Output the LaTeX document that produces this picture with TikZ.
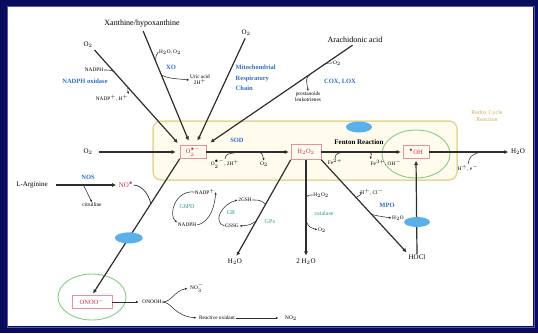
\documentclass[tikz,border=0pt]{standalone}
\usepackage{fontspec}
\setmainfont{Liberation Serif}
\usetikzlibrary{arrows.meta,shapes.geometric,calc}
\definecolor{navy}{HTML}{0B0B5C}
\definecolor{framelight}{HTML}{4B5CC0}
\definecolor{enzblue}{HTML}{2E6FC0}
\definecolor{enzteal}{HTML}{2A9C8C}
\definecolor{rosred}{HTML}{C83246}
\definecolor{rosbox}{HTML}{E890A0}
\definecolor{ringgreen}{HTML}{86CC86}
\definecolor{blobblue}{HTML}{5AB0E8}
\definecolor{redoxedge}{HTML}{E4D69C}
\definecolor{redoxfill}{HTML}{FFFCEE}
\definecolor{redoxtext}{HTML}{D0AE60}
\definecolor{arrowgray}{HTML}{2E2E2E}
\begin{document}
\begin{tikzpicture}[x=1pt,y=-1pt,
  lbl/.style={font=\fontsize{7}{8}\selectfont, inner sep=0.5pt},
  sm/.style={font=\fontsize{5.3}{6.3}\selectfont, inner sep=0.5pt},
  big/.style={font=\fontsize{8}{9}\selectfont, inner sep=0.5pt},
  enz/.style={font=\bfseries\fontsize{6.5}{7.5}\selectfont, inner sep=0.5pt, text=enzblue},
  tl/.style={font=\fontsize{6}{7}\selectfont, inner sep=0.5pt, text=enzteal},
  ros/.style={draw=rosbox, line width=0.6pt, text=rosred, font=\fontsize{6.5}{7.5}\selectfont, inner sep=1pt},
  mainarrow/.style={draw=arrowgray, line width=1.2pt, -{Latex[length=4pt,width=4pt]}},
  sidearrow/.style={draw=arrowgray, line width=0.55pt, -{Latex[length=2.5pt,width=2.2pt]}},
  link/.style={draw=arrowgray, line width=0.55pt},
  ring/.style={draw=ringgreen, line width=0.9pt, ellipse},
  blob/.style={fill=blobblue, ellipse, inner sep=0pt},
]
\useasboundingbox (0,0) rectangle (538,333);

% frame
\fill[navy] (0,0) rectangle (538,333);
\fill[white] (8,7) rectangle (533,326);
\draw[framelight, line width=0.7pt] (7,6) rectangle (534,327);

% redox cycle region
\draw[redoxedge, fill=redoxfill, line width=1.5pt, rounded corners=8pt] (153,121) rectangle (457,180);
\node[font=\fontsize{6}{7.5}\selectfont, text=redoxtext, align=center] (redox) at (487,116) {Redox Cycle\\Reaction};

% reactive species
\node[ros, minimum width=26pt, minimum height=13pt] (sup) at (193,152) {O$_2^{\bullet-}$};
\node[ros, minimum width=30pt, minimum height=15pt] (hp) at (306,152) {H$_2$O$_2$};
\node[ros, minimum width=26pt, minimum height=13pt] (oh) at (416,152) {$^{\bullet}$OH};
\node[ros, minimum width=40pt, minimum height=13pt] (onoo) at (92,302) {ONOO$^-$};
\node[ring, minimum width=68pt, minimum height=48pt] (ohring) at (416,154) {};
\node[ring, minimum width=68pt, minimum height=46pt] (onooring) at (92,297) {};

% sources and products
\node[lbl] (o2a) at (88,45) {O$_2$};
\node[big] (xan) at (142,24) {Xanthine/hypoxanthine};
\node[lbl] (o2m) at (246,33) {O$_2$};
\node[big] (ara) at (355,40) {Arachidonic acid};
\node[lbl] (o2l) at (88,152) {O$_2$};
\node[lbl] (larg) at (32,185) {L-Arginine};
\node[lbl, text=rosred] (no) at (126,185) {NO$^{\bullet}$};
\node[lbl] (h2oa) at (518,152) {H$_2$O};
\node[lbl] (hocl) at (417,257) {HOCl};
\node[lbl] (h2ob) at (306,262) {2 H$_2$O};
\node[lbl] (h2oc) at (235,262) {H$_2$O};
\node[sm] (onooh) at (152,302) {ONOOH};
\node[sm] (no3) at (197,288) {NO$_3^-$};
\node[sm] (reox) at (217,318) {Reactive oxidant};
\node[sm] (no2) at (291,318) {NO$_2$};

% enzymes
\node[enz] (nox) at (85,81) {NADPH oxidase};
\node[enz] (xo) at (171,67) {XO};
\node[enz, font=\bfseries\fontsize{6.5}{10.5}\selectfont, align=left, anchor=west] (mrc) at (235,78) {Mitochondrial\\Respiratory\\Chain};
\node[enz] (coxlox) at (340,82) {COX, LOX};
\node[enz] (sod) at (237,140) {SOD};
\node[font=\bfseries\fontsize{7}{8}\selectfont, inner sep=0.5pt] (fenton) at (359,142) {Fenton Reaction};
\node[enz] (nos) at (88,177) {NOS};
\node[enz] (mpo) at (387,205) {MPO};
\node[tl] (gpx) at (270,222) {GPx};
\node[tl] (cat) at (324,213) {catalase};
\node[tl] (g6pd) at (187,207) {G6PD};
\node[tl] (gr) at (231,213) {GR};

% co-substrates and by-products
\node[sm] (nadph1) at (94,70) {NADPH};
\node[sm] (nadp1) at (112,98) {NADP$^+$, H$^+$};
\node[sm] (xin) at (170,52) {H$_2$O, O$_2$};
\node[sm, align=center] (uric) at (200,80) {Uric acid\\2H$^+$};
\node[sm] (o2ara) at (337,63) {O$_2$};
\node[sm, align=center] (prost) at (308,97) {prostanoids\\leukotrienes};
\node[sm] (sodin) at (225,164) {O$_2^{\bullet-}$, 2H$^+$};
\node[sm] (sodout) at (264,164) {O$_2$};
\node[sm] (fe2) at (335,162) {Fe$^{2+}$};
\node[sm] (fe3) at (386,163) {Fe$^{3+}$, OH$^-$};
\node[sm] (hin) at (468,168) {H$^+$, e$^-$};
\node[sm] (cit) at (92,205) {citrulline};
\node[sm] (mpoin) at (372,192) {H$^+$, Cl$^-$};
\node[sm] (mpoout) at (398,218) {H$_2$O};
\node[sm] (catin) at (321,195) {H$_2$O$_2$};
\node[sm] (catout) at (322,230) {O$_2$};
\node[sm] (nadpp) at (205,192) {NADP$^+$};
\node[sm] (nadph2) at (187,225) {NADPH};
\node[sm] (gsh) at (245,200) {2GSH};
\node[sm] (gssg) at (232,226) {GSSG};

% superoxide sources
\draw[mainarrow, shorten <=2pt, shorten >=3pt] (o2a.south east) -- (sup.north west);
\draw[mainarrow, shorten <=3pt, shorten >=5pt] (xan.south) -- (sup.110);
\draw[mainarrow, shorten <=2pt, shorten >=5pt] (o2m.south) -- (sup.70);
\draw[mainarrow, shorten <=3pt, shorten >=5pt] (ara.south) -- (sup.north east);
\draw[mainarrow, shorten <=6pt, shorten >=4pt] (o2l.east) -- (sup.west);

\coordinate (pA) at ($(o2a.south east)!0.26!(sup.north west)$);
\coordinate (pB) at ($(o2a.south east)!0.40!(sup.north west)$);
\draw[link] (nadph1.east) .. controls (112,70) .. (pA);
\draw[sidearrow] (pB) .. controls (128,92) .. (nadp1.north east);

\coordinate (pD) at ($(xan.south)!0.28!(sup.110)$);
\coordinate (pE) at ($(xan.south)!0.40!(sup.110)$);
\draw[link] (xin.west) .. controls (156,55) .. (pD);
\draw[sidearrow] (pE) .. controls (168,78) .. (uric.west);

\coordinate (pF) at ($(ara.south)!0.22!(sup.north east)$);
\coordinate (pG) at ($(ara.south)!0.30!(sup.north east)$);
\draw[link] (o2ara.west) .. controls (326,63) .. (pF);
\draw[sidearrow] (pG) .. controls (306,78) .. (prost.north);

% dismutation, Fenton chemistry and water
\draw[mainarrow, shorten >=2pt] (sup.east) -- (hp.west);
\draw[mainarrow, shorten >=2pt] (hp.east) -- (oh.west);
\draw[mainarrow, shorten >=2pt] (oh.east) -- (h2oa.west);

\coordinate (pH) at ($(sup.east)!0.40!(hp.west)$);
\coordinate (pI) at ($(sup.east)!0.62!(hp.west)$);
\draw[link] (sodin.north) .. controls (226,154) .. (pH);
\draw[sidearrow] (pI) .. controls (262,153) .. (sodout.north);

\coordinate (pJ) at ($(hp.east)!0.35!(oh.west)$);
\coordinate (pK) at ($(hp.east)!0.55!(oh.west)$);
\draw[link] (fe2.north) .. controls (336,153) .. (pJ);
\draw[sidearrow] (pK) .. controls (372,153) .. (fe3.north west);

\coordinate (pL) at ($(oh.east)!0.62!(h2oa.west)$);
\draw[link] (hin.north) .. controls (470,156) .. (pL);

% hydrogen peroxide removal
\draw[mainarrow, shorten >=2pt] (hp.south east) -- (hocl.north west);
\draw[mainarrow, shorten >=3pt] (hp.south) -- (h2ob.north);
\draw[mainarrow, shorten >=3pt] (hp.south west) -- (h2oc.north);
\draw[mainarrow, shorten >=2pt] (hocl.north) -- (oh.south);

\coordinate (pM) at ($(hp.south east)!0.40!(hocl.north west)$);
\coordinate (pN) at ($(hp.south east)!0.58!(hocl.north west)$);
\draw[link] (mpoin.west) .. controls (362,194) .. (pM);
\draw[sidearrow] (pN) .. controls (378,216) .. (mpoout.west);

\coordinate (pO) at ($(hp.south)!0.38!(h2ob.north)$);
\coordinate (pP) at ($(hp.south)!0.62!(h2ob.north)$);
\draw[link] (catin.west) .. controls (308,195) .. (pO);
\draw[sidearrow] (pP) .. controls (309,227) .. (catout.west);

\coordinate (pQ) at ($(hp.south west)!0.45!(h2oc.north)$);
\coordinate (pR) at ($(hp.south west)!0.62!(h2oc.north)$);
\draw[link] (gsh.east) .. controls (260,200) .. (pQ);
\draw[sidearrow] (pR) .. controls (250,225) .. (gssg.east);

% glutathione recycling
\draw[sidearrow] (nadph2.east) .. controls (212,222) and (215,202) .. (nadpp.east);
\draw[sidearrow] (gssg.west) .. controls (212,222) and (222,204) .. (gsh.west);
\draw[sidearrow] (nadpp.west) .. controls (175,190) and (168,215) .. (nadph2.north west);

% nitric oxide and peroxynitrite
\draw[mainarrow, shorten <=8pt, shorten >=2pt] (larg.east) -- (no.west);
\coordinate (pS) at ($(larg.east)!0.5!(no.west)$);
\draw[sidearrow] (pS) .. controls (86,190) .. (cit.north);

\draw[mainarrow, shorten >=2pt] (sup.south west) -- (onoo.north);
\coordinate (pT) at ($(sup.south west)!0.33!(onoo.north)$);
\draw[link, line width=0.7pt] (no.east) .. controls (143,186) and (149,195) .. (pT);

\draw[sidearrow, shorten >=3pt] (onoo.east) -- (onooh.west);
\draw[sidearrow, shorten >=2pt] (onooh.east) .. controls (172,302) and (174,291) .. (no3.west);
\draw[sidearrow, shorten >=2pt] (onooh.east) .. controls (172,302) and (174,316) .. (reox.west);
\draw[sidearrow, shorten >=6pt] (reox.east) -- (no2.west);

% regulatory markers
\node[blob, minimum width=26pt, minimum height=11pt] (b1) at (359,127) {};
\node[blob, minimum width=28pt, minimum height=11pt] (b2) at ($(sup.south west)!0.58!(onoo.north)$) {};
\node[blob, minimum width=26pt, minimum height=10pt] (b3) at (417,222) {};
\end{tikzpicture}
\end{document}
